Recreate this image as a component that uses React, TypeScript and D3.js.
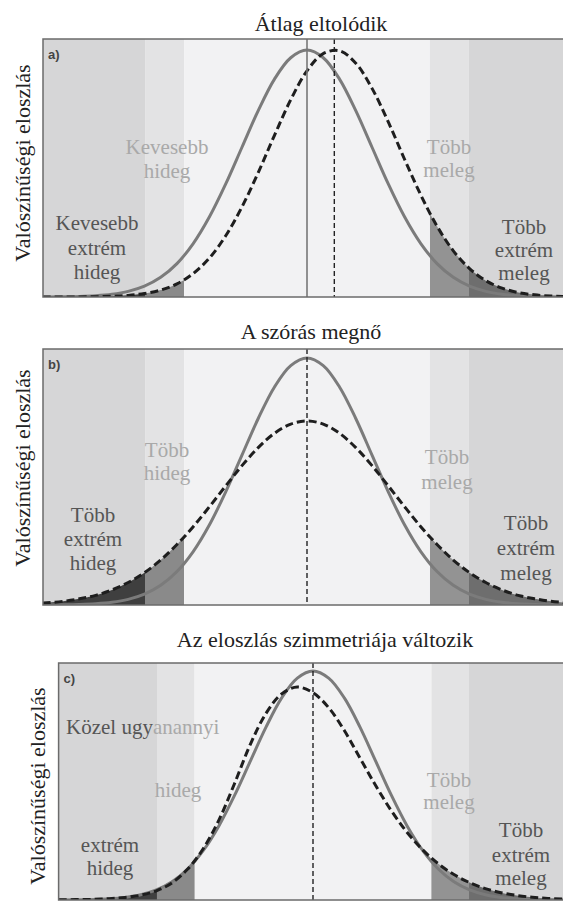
import React from 'react';
import * as d3 from 'd3';

// titles and texts
const titles = ['Átlag eltolódik', 'A szórás megnő', 'Az eloszlás szimmetriája változik'];
const panelLetters = ['a)', 'b)', 'c)'];
const yLabel = 'Valószínűségi eloszlás';

// x in standard deviations of the present climate
const xs = [-4.25, -4, -3.75, -3.5, -3.25, -3, -2.75, -2.5, -2.25, -2, -1.75, -1.5, -1.25, -1, -0.75, -0.5, -0.25,
  0, 0.25, 0.5, 0.75, 1, 1.25, 1.5, 1.75, 2, 2.25, 2.5, 2.75, 3, 3.25, 3.5, 3.75, 4, 4.25];

// band edges: extreme cold | cold | normal | warm | extreme warm
const bandEdges = [-2.49, -1.89, 1.89, 2.49];

// relative density (peak of the present climate = 1)
const present = [0.0001, 0.0003, 0.0009, 0.0022, 0.0051, 0.0111, 0.0228, 0.0439, 0.0796, 0.1353, 0.2163, 0.3247, 0.4578,
  0.6065, 0.7548, 0.8825, 0.969, 1, 0.969, 0.8825, 0.7548, 0.6065, 0.4578, 0.3247, 0.2163, 0.1353, 0.0796, 0.0439,
  0.0228, 0.0111, 0.0051, 0.0022, 0.0009, 0.0003, 0.0001];
const shiftedMean = [0, 0.0001, 0.0002, 0.0005, 0.0012, 0.003, 0.0066, 0.014, 0.028, 0.053, 0.095, 0.158, 0.248, 0.365,
  0.504, 0.655, 0.799, 0.916, 0.986, 0.997, 0.947, 0.845, 0.709, 0.558, 0.413, 0.287, 0.187, 0.115, 0.066, 0.036, 0.018,
  0.0087, 0.0039, 0.0016, 0.0006];
const widerSpread = [0.005, 0.009, 0.015, 0.025, 0.039, 0.061, 0.091, 0.131, 0.182, 0.245, 0.317, 0.398, 0.482, 0.564,
  0.637, 0.695, 0.732, 0.745, 0.732, 0.695, 0.637, 0.564, 0.482, 0.398, 0.317, 0.245, 0.182, 0.131, 0.091, 0.061, 0.039,
  0.025, 0.015, 0.009, 0.005];
const skewed = [0.0005, 0.001, 0.002, 0.003, 0.006, 0.011, 0.021, 0.04, 0.075, 0.135, 0.225, 0.35, 0.51, 0.68, 0.815,
  0.9, 0.93, 0.905, 0.84, 0.74, 0.62, 0.5, 0.39, 0.296, 0.219, 0.158, 0.111, 0.076, 0.05, 0.032, 0.02, 0.012, 0.007,
  0.004, 0.002];

// mean markers
const meanA = [0, 0.42];
const meanB = [0];
const meanC = [0];

const bandColors = ['#d6d6d7', '#e3e3e4', '#f2f2f3', '#e3e3e4', '#d6d6d7'];
const tailColors = ['#3f3f3f', '#8a8a8a', '#939393', '#6e6e6e'];
const dark = '#555';
const light = '#a9a9a9';
const serif = '"Liberation Serif"';

type Label = { lines: string[]; x: number; y: number[]; color: string };

const panels = [
  {
    left: 43, right: 571, top: 39, bottom: 297, yMax: 1.045, future: shiftedMean,
    titleX: 321, titleY: 31, labX: 30, labY: 163, solidMean: meanA[0], dashMean: meanA[1],
    labels: [
      { lines: ['Kevesebb', 'hideg'], x: 167, y: [154, 178], color: light },
      { lines: ['Több', 'meleg'], x: 449, y: [154, 177], color: light },
      { lines: ['Kevesebb', 'extrém', 'hideg'], x: 97, y: [230, 255, 279], color: dark },
      { lines: ['Több', 'extrém', 'meleg'], x: 524, y: [234, 257, 280], color: dark },
    ] as Label[],
  },
  {
    left: 43, right: 571, top: 349, bottom: 605, yMax: 1.036, future: widerSpread,
    titleX: 311, titleY: 339, labX: 30, labY: 468, solidMean: null, dashMean: meanB[0],
    labels: [
      { lines: ['Több', 'hideg'], x: 167, y: [457, 480], color: light },
      { lines: ['Több', 'meleg'], x: 447, y: [464, 489], color: light },
      { lines: ['Több', 'extrém', 'hideg'], x: 93, y: [522, 546, 570], color: dark },
      { lines: ['Több', 'extrém', 'meleg'], x: 526, y: [530, 555, 580], color: dark },
    ] as Label[],
  },
  {
    left: 58.6, right: 567.4, top: 663, bottom: 900, yMax: 1.035, future: skewed,
    titleX: 325, titleY: 647, labX: 45, labY: 786, solidMean: null, dashMean: meanC[0],
    labels: [
      { lines: ['hideg'], x: 178, y: [797], color: light },
      { lines: ['extrém', 'hideg'], x: 110, y: [852, 875], color: dark },
      { lines: ['Több', 'meleg'], x: 449, y: [787, 809], color: light },
      { lines: ['Több', 'extrém', 'meleg'], x: 521, y: [837, 862, 885], color: dark },
    ] as Label[],
  },
];

function Panel({ p, i }: { p: any; i: number }) {
  const x = d3.scaleLinear().domain([-4.06, 4.06]).range([p.left, p.right]);
  const y = d3.scaleLinear().domain([0, p.yMax]).range([p.bottom, p.top]);
  const curve = d3.curveCatmullRom.alpha(0.5);
  const line = d3.line<number>().x((d, k) => x(xs[k])).y(d => y(d)).curve(curve);
  const area = d3.area<number>().x((d, k) => x(xs[k])).y0(y(0)).y1(d => y(d)).curve(curve);

  const edges = [p.left, ...bandEdges.map(e => x(e)), p.right];
  const bands = d3.pairs(edges);
  const tailBands = [bands[0], bands[1], bands[3], bands[4]];
  const id = 'p' + i;

  return (
    <g>
      <defs>
        <clipPath id={id + 'frame'}>
          <rect x={p.left} y={p.top} width={p.right - p.left} height={p.bottom - p.top} />
        </clipPath>
        {tailBands.map((b, k) => (
          <clipPath key={k} id={id + 'tail' + k}>
            <rect x={b[0]} y={p.top} width={b[1] - b[0]} height={p.bottom - p.top} />
          </clipPath>
        ))}
      </defs>

      {bands.map((b, k) => (
        <rect key={k} x={b[0]} y={p.top} width={b[1] - b[0]} height={p.bottom - p.top} fill={bandColors[k]} />
      ))}

      {tailBands.map((b, k) => (
        <path key={k} d={area(p.future) || ''} fill={tailColors[k]} clipPath={`url(#${id}tail${k})`} />
      ))}

      <g clipPath={`url(#${id}frame)`}>
        <path d={line(present) || ''} fill="none" stroke="#7b7b7b" strokeWidth={3} />
        <path d={line(p.future) || ''} fill="none" stroke="#1e1e1e" strokeWidth={3} strokeDasharray="8,4" />
        {p.solidMean !== null && (
          <line x1={x(p.solidMean)} x2={x(p.solidMean)} y1={p.top} y2={p.bottom} stroke="#777" strokeWidth={1.6} />
        )}
        <line x1={x(p.dashMean)} x2={x(p.dashMean)} y1={p.top} y2={p.bottom} stroke="#222"
          strokeWidth={1.4} strokeDasharray="5,3" />
      </g>

      <rect x={p.left} y={p.top} width={p.right - p.left} height={p.bottom - p.top} fill="none"
        stroke="#6b6b6b" strokeWidth={1.5} />
    </g>
  );
}

function PanelText({ p, i }: { p: any; i: number }) {
  return (
    <g>
      <text x={p.titleX} y={p.titleY} textAnchor="middle" fontSize={22} style={{ fontFamily: serif, fill: '#222' }}>
        {titles[i]}
      </text>
      <text transform={`translate(${p.labX},${p.labY}) rotate(-90)`} textAnchor="middle"
        fontSize={22} style={{ fontFamily: serif, fill: '#222' }}>
        {yLabel}
      </text>
      <text x={p.left + 5} y={p.top + 20} fontWeight="bold" fontSize={13}
        style={{ fontFamily: '"Liberation Sans"', fill: '#444' }}>{panelLetters[i]}</text>
      {p.labels.map((l: Label, k: number) =>
        l.lines.map((s, j) => (
          <text key={k + '-' + j} x={l.x} y={l.y[j]} textAnchor="middle" fontSize={21}
            style={{ fontFamily: serif, fill: l.color }}>{s}</text>
        ))
      )}
      {i === 2 && (
        <text x={66} y={734} fontSize={21} style={{ fontFamily: serif }}>
          <tspan fill={dark}>Közel ugy</tspan><tspan fill={light}>anannyi</tspan>
        </text>
      )}
    </g>
  );
}

export default function App() {
  return (
    <svg width={563} height={902} style={{ position: 'absolute', left: 0, top: 0 }}>
      <rect width={563} height={902} fill="#fff" />
      {panels.map((p, i) => <Panel key={i} p={p} i={i} />)}
      {panels.map((p, i) => <PanelText key={'t' + i} p={p} i={i} />)}
    </svg>
  );
}
